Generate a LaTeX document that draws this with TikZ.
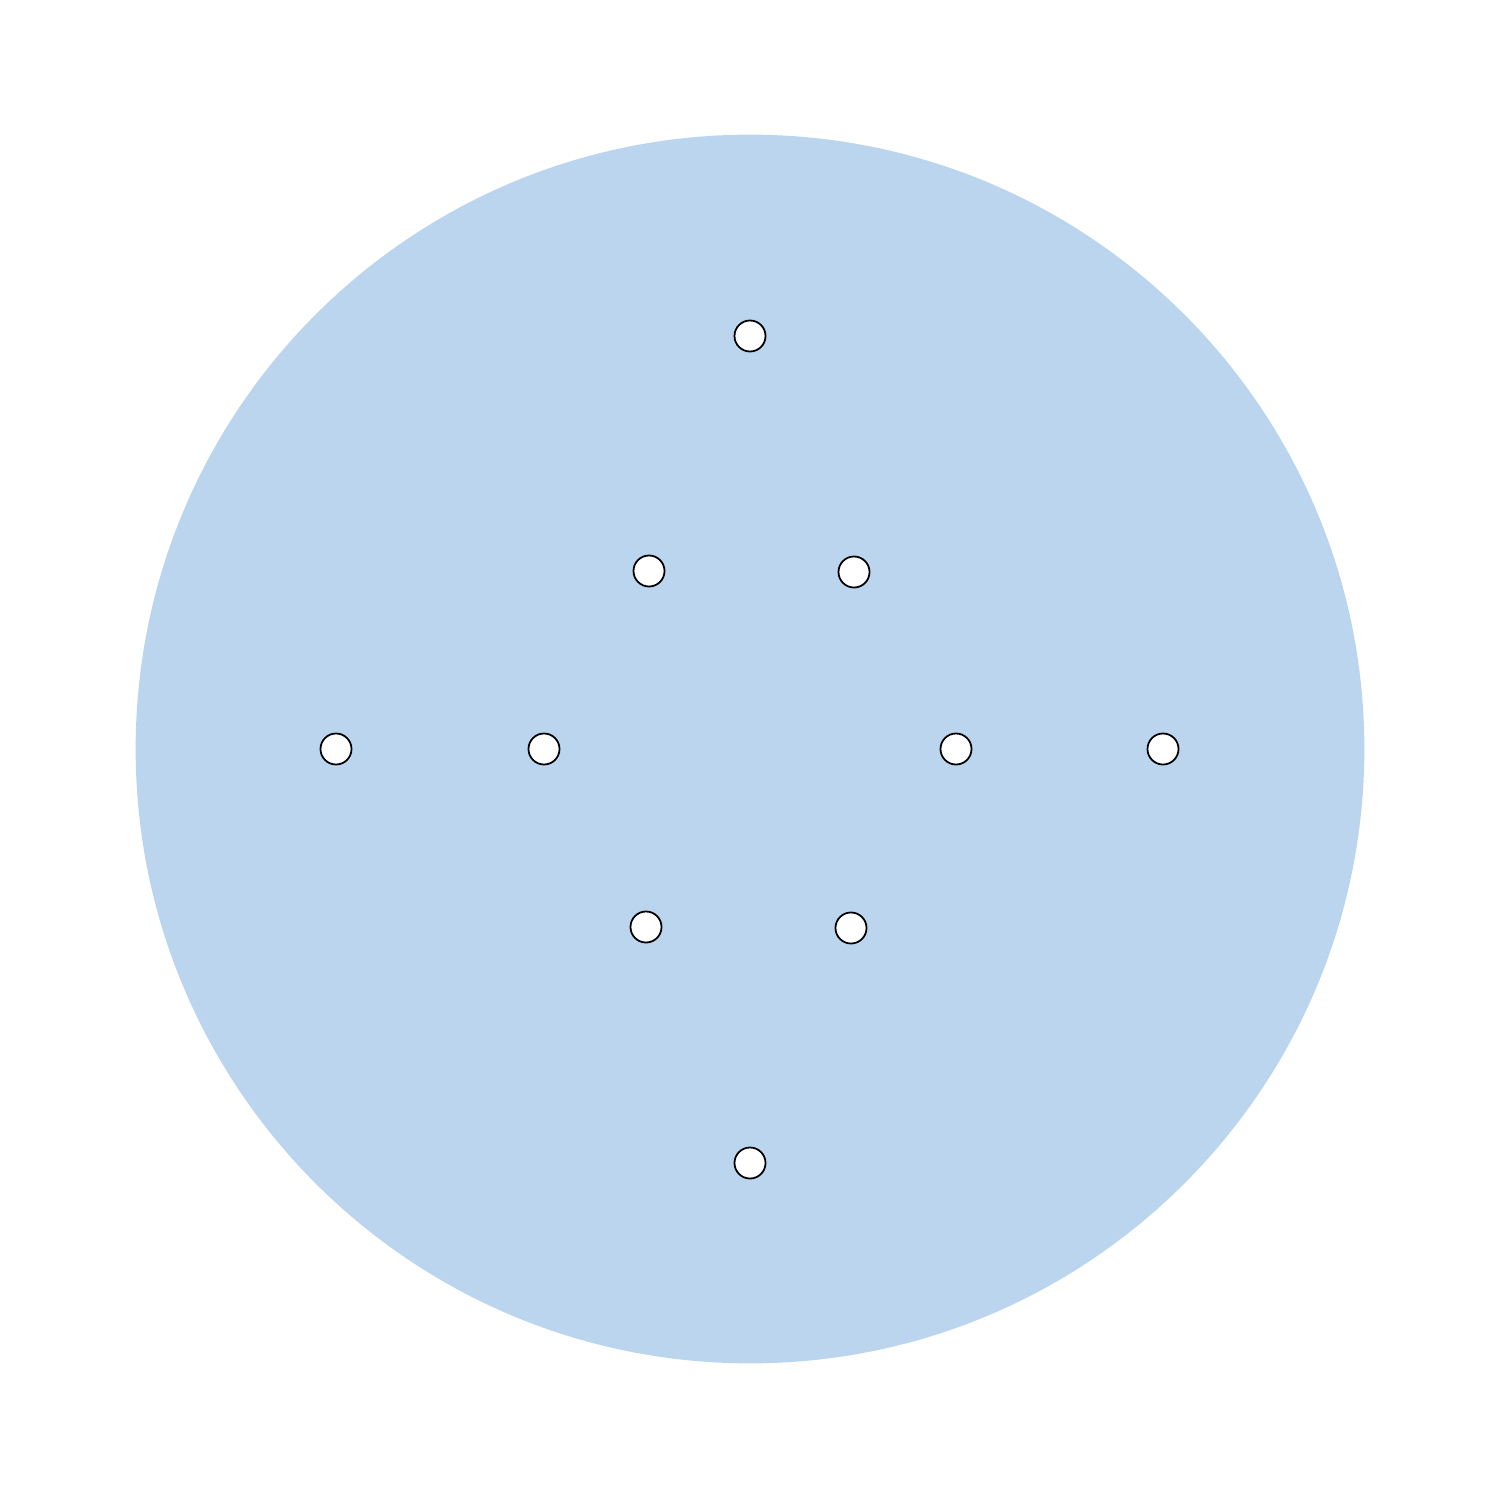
\documentclass[tikz,border=0pt]{standalone}
\begin{document}
\begin{tikzpicture}[x=0.01cm,y=-0.01cm,
  disc/.style={circle,fill=discblue,inner sep=0pt,minimum size=12.28cm},
  hole/.style={circle,draw=black,fill=white,line width=0.5pt,inner sep=0pt,minimum size=0.31cm}]
\definecolor{discblue}{HTML}{BBD5EF}
\useasboundingbox (0,0) rectangle (1500,1500);
\node[disc] (D) at (750,749) {};
\node[hole] (h1) at (750,336) {};
\node[hole] (h2) at (649,571) {};
\node[hole] (h3) at (854,572) {};
\node[hole] (h4) at (336,749) {};
\node[hole] (h5) at (544,749) {};
\node[hole] (h6) at (956,749) {};
\node[hole] (h7) at (1163,749) {};
\node[hole] (h8) at (646,927) {};
\node[hole] (h9) at (851,928) {};
\node[hole] (h10) at (750,1163) {};
\end{tikzpicture}
\end{document}
